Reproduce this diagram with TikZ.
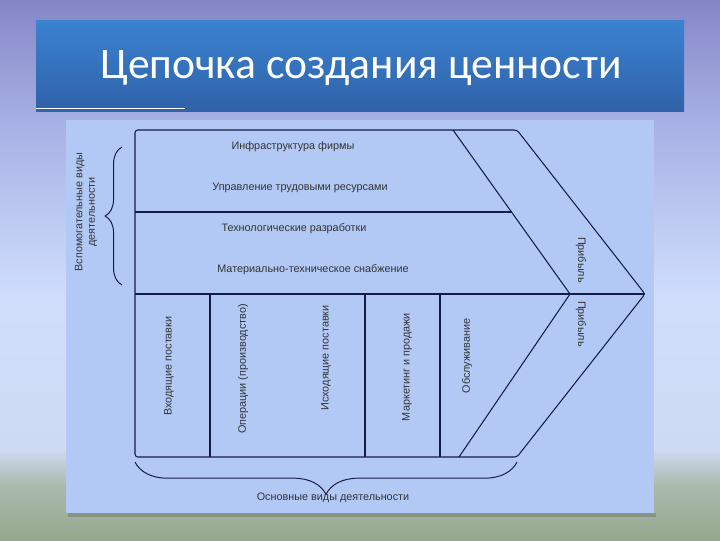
\documentclass[tikz,border=0pt]{standalone}
\usepackage{fontspec}
\setmainfont{Liberation Sans}
\newfontfamily\titlefont{Carlito}
\usetikzlibrary{decorations.pathreplacing}

\definecolor{bgtop}{RGB}{134,134,198}
\definecolor{bgupper}{RGB}{166,176,228}
\definecolor{bgmid}{RGB}{208,222,252}
\definecolor{bglow}{RGB}{205,218,242}
\definecolor{bggreen}{RGB}{170,186,172}
\definecolor{bgbottom}{RGB}{148,168,140}
\definecolor{titletop}{RGB}{58,130,210}
\definecolor{titlebottom}{RGB}{48,98,168}
\definecolor{panelblue}{RGB}{178,201,246}
\definecolor{linenavy}{RGB}{20,28,70}

\tikzset{
  chainline/.style={draw=linenavy, line width=0.75pt},
  actlabel/.style={font=\fontsize{7.7}{9}\selectfont, text=black!80, inner sep=0pt},
  uplabel/.style={actlabel, rotate=90},
  downlabel/.style={actlabel, rotate=-90},
  bracket/.style={draw=linenavy, line width=0.7pt, decorate,
    decoration={brace, amplitude=#1}},
}

\begin{document}
\begin{tikzpicture}[x=0.025cm, y=-0.025cm]
          \useasboundingbox (0,0) rectangle (720,540);

          % slide background
          \shade[top color=bgtop, bottom color=bgupper] (0,0) rectangle (720,120);
          \shade[top color=bgupper, bottom color=bgmid] (0,120) rectangle (720,300);
          \shade[top color=bgmid, bottom color=bglow] (0,300) rectangle (720,450);
          \shade[top color=bglow, bottom color=bggreen] (0,450) rectangle (720,485);
          \shade[top color=bggreen, bottom color=bgbottom] (0,485) rectangle (720,540);

          % title bar
          \shade[top color=titletop, bottom color=titlebottom] (36,20) rectangle (684,111);
          \draw[white, line width=0.6pt] (36,108) -- (185,108);
          \node[font=\titlefont\fontsize{31}{35}\selectfont, text=white] (title) at (361,68) {Цепочка создания ценности};

          % panel
          \fill[black, opacity=0.15] (68,513) rectangle (656,517);
          \fill[panelblue] (66,120) rectangle (654,513);

          % chain outline
          \coordinate (nw) at (135,130);
          \coordinate (topmid) at (453,130);
          \coordinate (topend) at (517,130);
          \coordinate (tip) at (645,294);
          \coordinate (intip) at (570,294);
          \coordinate (botend) at (517,457);
          \coordinate (botmid) at (459,457);
          \coordinate (sw) at (135,457);
          \coordinate (midl) at (135,294);
          \coordinate (supl) at (135,212);
          \coordinate (supr) at (512,212);

          \draw[chainline, rounded corners=2] (nw) -- (topend) -- (tip) -- (botend) -- (sw) -- cycle;
          \draw[chainline] (topmid) -- (intip) -- (botmid);
          \draw[chainline] (supl) -- (supr);
          \draw[chainline] (midl) -- (tip);
          \foreach \x in {210,365,440}
          {
            \draw[chainline] (\x,294) -- (\x,457);
          }

          % support activities
          \node[actlabel] (infra) at (293,147) {Инфраструктура фирмы};
          \node[actlabel] (hrm) at (300,188) {Управление трудовыми ресурсами};
          \node[actlabel] (tech) at (294,229) {Технологические разработки};
          \node[actlabel] (supply) at (313,270) {Материально-техническое снабжение};

          % primary activities
          \node[uplabel] (inbound) at (169,366) {Входящие поставки};
          \node[uplabel] (ops) at (243,369) {Операции (производство)};
          \node[uplabel] (outbound) at (326,358) {Исходящие поставки};
          \node[uplabel] (sales) at (407,367) {Маркетинг и продажи};
          \node[uplabel] (service) at (467,356) {Обслуживание};

          % margin
          \node[downlabel] (margintop) at (581,260) {Прибыль};
          \node[downlabel] (marginbot) at (581,324) {Прибыль};

          % braces
          \coordinate (supbot) at (122,285);
          \coordinate (suptop) at (122,147);
          \coordinate (primr) at (517,462);
          \coordinate (priml) at (135,462);
          \draw[bracket=12] (supbot) -- (suptop);
          \draw[bracket=23] (primr) -- (priml);
          \node[actlabel, rotate=90, align=center] (suplabel) at (86,212) {Вспомогательные виды\\деятельности};
          \node[actlabel] (primlabel) at (333,498) {Основные виды деятельности};

\end{tikzpicture}
\end{document}
